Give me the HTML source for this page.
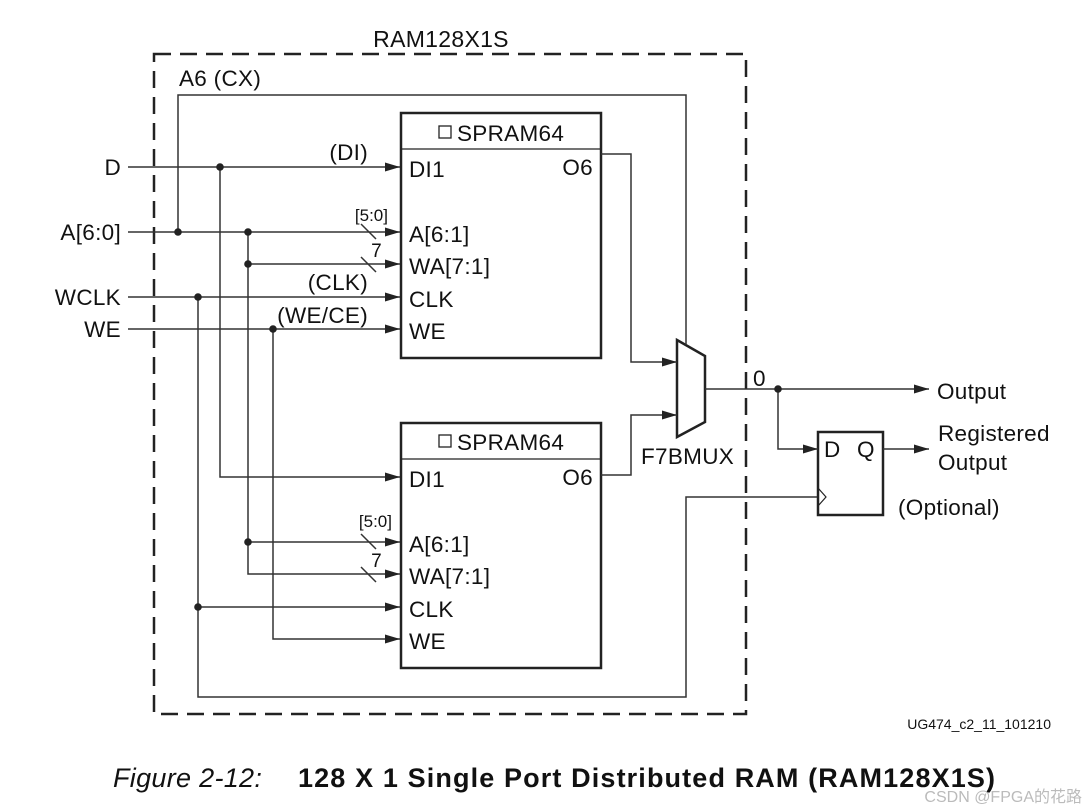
<!DOCTYPE html>
<html><head><meta charset="utf-8"><style>
body{margin:0;background:#fff;}
svg{display:block;font-family:"Liberation Sans",sans-serif;}
</style></head><body>
<svg width="1087" height="812" viewBox="0 0 1087 812" xmlns="http://www.w3.org/2000/svg">
<defs>
<marker id="a" markerWidth="15" markerHeight="9" refX="15" refY="4.5" orient="auto" markerUnits="userSpaceOnUse">
<path d="M0,0 L15,4.5 L0,9 z" fill="#222"/></marker>
</defs>
<rect x="0" y="0" width="1087" height="812" fill="#fff"/>
<rect x="154" y="54" width="592" height="660" fill="none" stroke="#222" stroke-width="2.5" stroke-dasharray="17 9"/>
<text x="441" y="47" font-size="23" text-anchor="middle" fill="#111" letter-spacing="0.3">RAM128X1S</text>

<g fill="none" stroke="#222">
<rect x="401" y="113" width="200" height="245" stroke-width="2.5"/>
<line x1="401" y1="149" x2="601" y2="149" stroke-width="1.2"/>
<rect x="401" y="423" width="200" height="245" stroke-width="2.5"/>
<line x1="401" y1="459" x2="601" y2="459" stroke-width="1.2"/>
<rect x="818" y="432" width="65" height="83" stroke-width="2.5"/>
<polygon points="677,340 705,356 705,422 677,437" stroke-width="2.5"/>
<polyline points="818,488 826,497 818,506" stroke-width="1.2"/>
</g>
<g fill="none" stroke="#333" stroke-width="1.5">
<line x1="128" y1="167" x2="400" y2="167" marker-end="url(#a)"/>
<line x1="128" y1="232" x2="400" y2="232" marker-end="url(#a)"/>
<line x1="248" y1="264" x2="400" y2="264" marker-end="url(#a)"/>
<line x1="128" y1="297" x2="400" y2="297" marker-end="url(#a)"/>
<line x1="128" y1="329" x2="400" y2="329" marker-end="url(#a)"/>
<polyline points="178,232 178,95 686,95 686,345"/>
<polyline points="220,167 220,477 400,477" marker-end="url(#a)"/>
<polyline points="248,232 248,574 400,574" marker-end="url(#a)"/>
<line x1="248" y1="542" x2="400" y2="542" marker-end="url(#a)"/>
<polyline points="273,329 273,639 400,639" marker-end="url(#a)"/>
<line x1="198" y1="607" x2="400" y2="607" marker-end="url(#a)"/>
<polyline points="198,297 198,697 686,697 686,497 817,497"/>
<line x1="361" y1="224" x2="376" y2="239"/>
<line x1="361" y1="257" x2="376" y2="272"/>
<line x1="361" y1="534" x2="376" y2="549"/>
<line x1="361" y1="567" x2="376" y2="582"/>
<polyline points="601,154 631,154 631,362 677,362" marker-end="url(#a)"/>
<polyline points="601,475 631,475 631,415 677,415" marker-end="url(#a)"/>
<line x1="705" y1="389" x2="929" y2="389" marker-end="url(#a)"/>
<polyline points="778,389 778,449 818,449" marker-end="url(#a)"/>
<line x1="883" y1="449" x2="929" y2="449" marker-end="url(#a)"/>
</g>
<g fill="#222">
<circle cx="220" cy="167" r="3.8"/><circle cx="178" cy="232" r="3.8"/><circle cx="248" cy="232" r="3.8"/>
<circle cx="248" cy="264" r="3.8"/><circle cx="198" cy="297" r="3.8"/><circle cx="273" cy="329" r="3.8"/>
<circle cx="248" cy="542" r="3.8"/><circle cx="198" cy="607" r="3.8"/><circle cx="778" cy="389" r="3.8"/>
</g>
<g font-size="22.5" fill="#111" letter-spacing="0.3">
<text x="121" y="175" text-anchor="end">D</text>
<text x="121" y="240" text-anchor="end">A[6:0]</text>
<text x="121" y="305" text-anchor="end">WCLK</text>
<text x="121" y="337" text-anchor="end">WE</text>
<text x="179" y="86">A6 (CX)</text>
<text x="368" y="160" text-anchor="end">(DI)</text>
<text x="368" y="290" text-anchor="end">(CLK)</text>
<text x="368" y="323" text-anchor="end">(WE/CE)</text>
<text x="382" y="257" text-anchor="end" font-size="19">7</text>
<text x="382" y="567" text-anchor="end" font-size="19">7</text>
<text x="409" y="177">DI1</text><text x="593" y="175" text-anchor="end">O6</text>
<text x="409" y="242">A[6:1]</text><text x="409" y="274">WA[7:1]</text>
<text x="409" y="307">CLK</text><text x="409" y="339">WE</text>
<text x="457" y="141">SPRAM64</text>
<text x="409" y="487">DI1</text><text x="593" y="485" text-anchor="end">O6</text>
<text x="409" y="552">A[6:1]</text><text x="409" y="584">WA[7:1]</text>
<text x="409" y="617">CLK</text><text x="409" y="649">WE</text>
<text x="457" y="450">SPRAM64</text>
<text x="641" y="464">F7BMUX</text>
<text x="753" y="386">0</text>
<text x="937" y="399">Output</text>
<text x="938" y="441">Registered</text>
<text x="938" y="470">Output</text>
<text x="898" y="515">(Optional)</text>
<text x="824" y="457">D</text><text x="857" y="457">Q</text>
</g>
<g font-size="17" fill="#111">
<text x="388" y="221" text-anchor="end">[5:0]</text>
<text x="392" y="527" text-anchor="end">[5:0]</text>
</g>
<rect x="439" y="126" width="12" height="12" fill="none" stroke="#222" stroke-width="1.3"/>
<rect x="439" y="435" width="12" height="12" fill="none" stroke="#222" stroke-width="1.3"/>
<text x="1051" y="729" font-size="14" text-anchor="end" fill="#111">UG474_c2_11_101210</text>
<text x="113" y="787" font-size="27" font-style="italic" fill="#111" letter-spacing="0.3">Figure 2-12:</text>
<text x="298" y="787" font-size="27" font-weight="bold" fill="#111" textLength="697" lengthAdjust="spacing">128 X 1 Single Port Distributed RAM (RAM128X1S)</text>
<text x="1082" y="802" font-size="16" text-anchor="end" fill="#bbb" font-family="Liberation Sans, Noto Sans CJK SC, sans-serif">CSDN @FPGA的花路</text>
</svg>
</body></html>
